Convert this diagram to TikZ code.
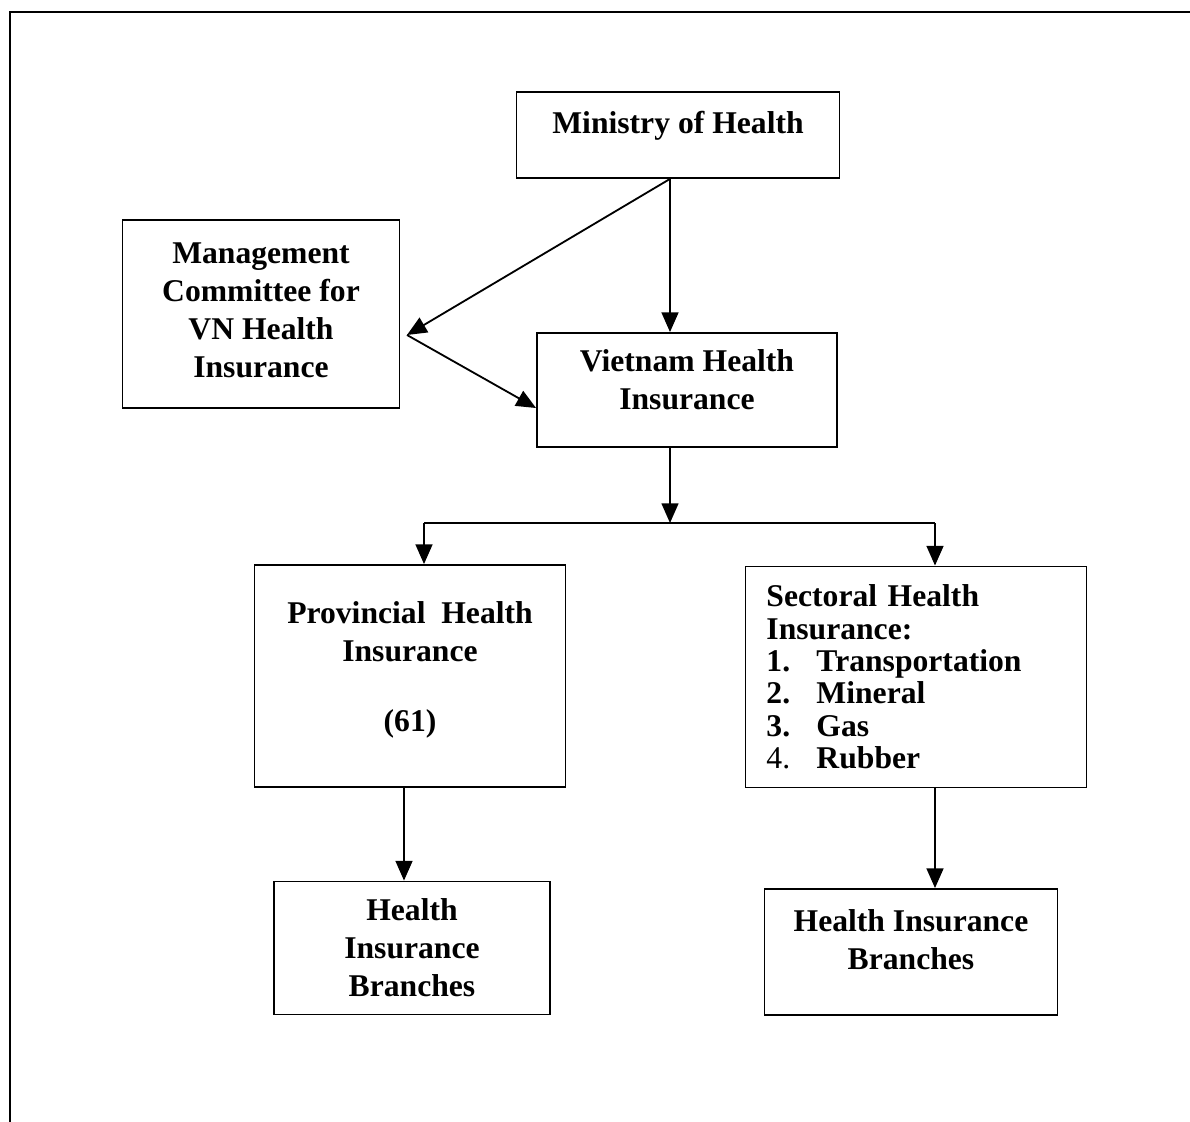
\documentclass[tikz,border=0pt]{standalone}
\usepackage{fontspec}
\setmainfont{Liberation Serif}
\usetikzlibrary{arrows.meta}
\usetikzlibrary{positioning}

\begin{document}
\begin{tikzpicture}[
    x=0.025cm, y=-0.025cm,
    every node/.style={font=\bfseries\fontsize{22.5}{27}\selectfont},
    box/.style={draw, line width=1.3pt, align=center, inner sep=0pt},
    line/.style={draw, line width=1.3pt},
    link/.style={line, -{Triangle[length=14pt, width=12pt]}}
]
    \useasboundingbox (0,0) rectangle (1190,1122);

    % Frame
    \draw[line width=2pt] (10,1122) -- (10,12) -- (1190,12);

    % Top
    \node[box, minimum width=8.075cm, minimum height=2.15cm, text depth=0.62cm] (moh) at (678,135) {Ministry of Health};
    \node[box, minimum width=6.925cm, minimum height=4.7cm, text depth=0.2cm] (mgmt) at (261,314)
        {Management\\Committee for\\VN Health\\Insurance};
    \node[box, minimum width=7.5cm, minimum height=2.85cm, text depth=0.5cm] (vnhi) at (687,390)
        {Vietnam Health\\Insurance};

    % Level 2
    \node[box, minimum width=7.775cm, minimum height=5.55cm, text depth=0.46cm] (prov) at (410,676)
        {Provincial\ \ Health\\Insurance\\[0.8cm](61)};
    \node[box, align=left, text width=7.475cm, inner xsep=0.525cm,
          minimum height=5.525cm, font=\bfseries\fontsize{22.5}{23}\selectfont] (sect) at (916,677)
        {Sectoral Health\\Insurance:\\
         \makebox[1.25cm][l]{1.}Transportation\\
         \makebox[1.25cm][l]{2.}Mineral\\
         \makebox[1.25cm][l]{3.}Gas\\
         \makebox[1.25cm][l]{\mdseries 4.}Rubber};

    % Level 3
    \node[box, minimum width=6.9cm, minimum height=3.325cm] (brl) at (412,948)
        {Health\\Insurance\\Branches};
    \node[box, minimum width=7.325cm, minimum height=3.15cm, text depth=0.6cm] (brr) at (911,952)
        {Health Insurance\\Branches};

    % Connectors
    \coordinate (top) at ([xshift=-0.2cm]moh.south);
    \coordinate (mc) at (407,335);
    \draw[link] (top) -- (top |- vnhi.north);
    \draw[link] (top) -- (mc);
    \draw[link] (mc) -- ([yshift=-0.45cm]vnhi.west);

    \coordinate (bar) at (670,523);
    \coordinate (barl) at (424,523);
    \coordinate (barr) at (935,523);
    \draw[link] (vnhi.south -| bar) -- (bar);
    \draw[line] (barl) -- (barr);
    \draw[link] (barl) -- (barl |- prov.north);
    \draw[link] (barr) -- (barr |- sect.north);

    \draw[link] ([xshift=-0.15cm]prov.south) -- ([xshift=-0.15cm]prov.south |- brl.north);
    \draw[link] ([xshift=0.475cm]sect.south) -- ([xshift=0.475cm]sect.south |- brr.north);
\end{tikzpicture}
\end{document}
